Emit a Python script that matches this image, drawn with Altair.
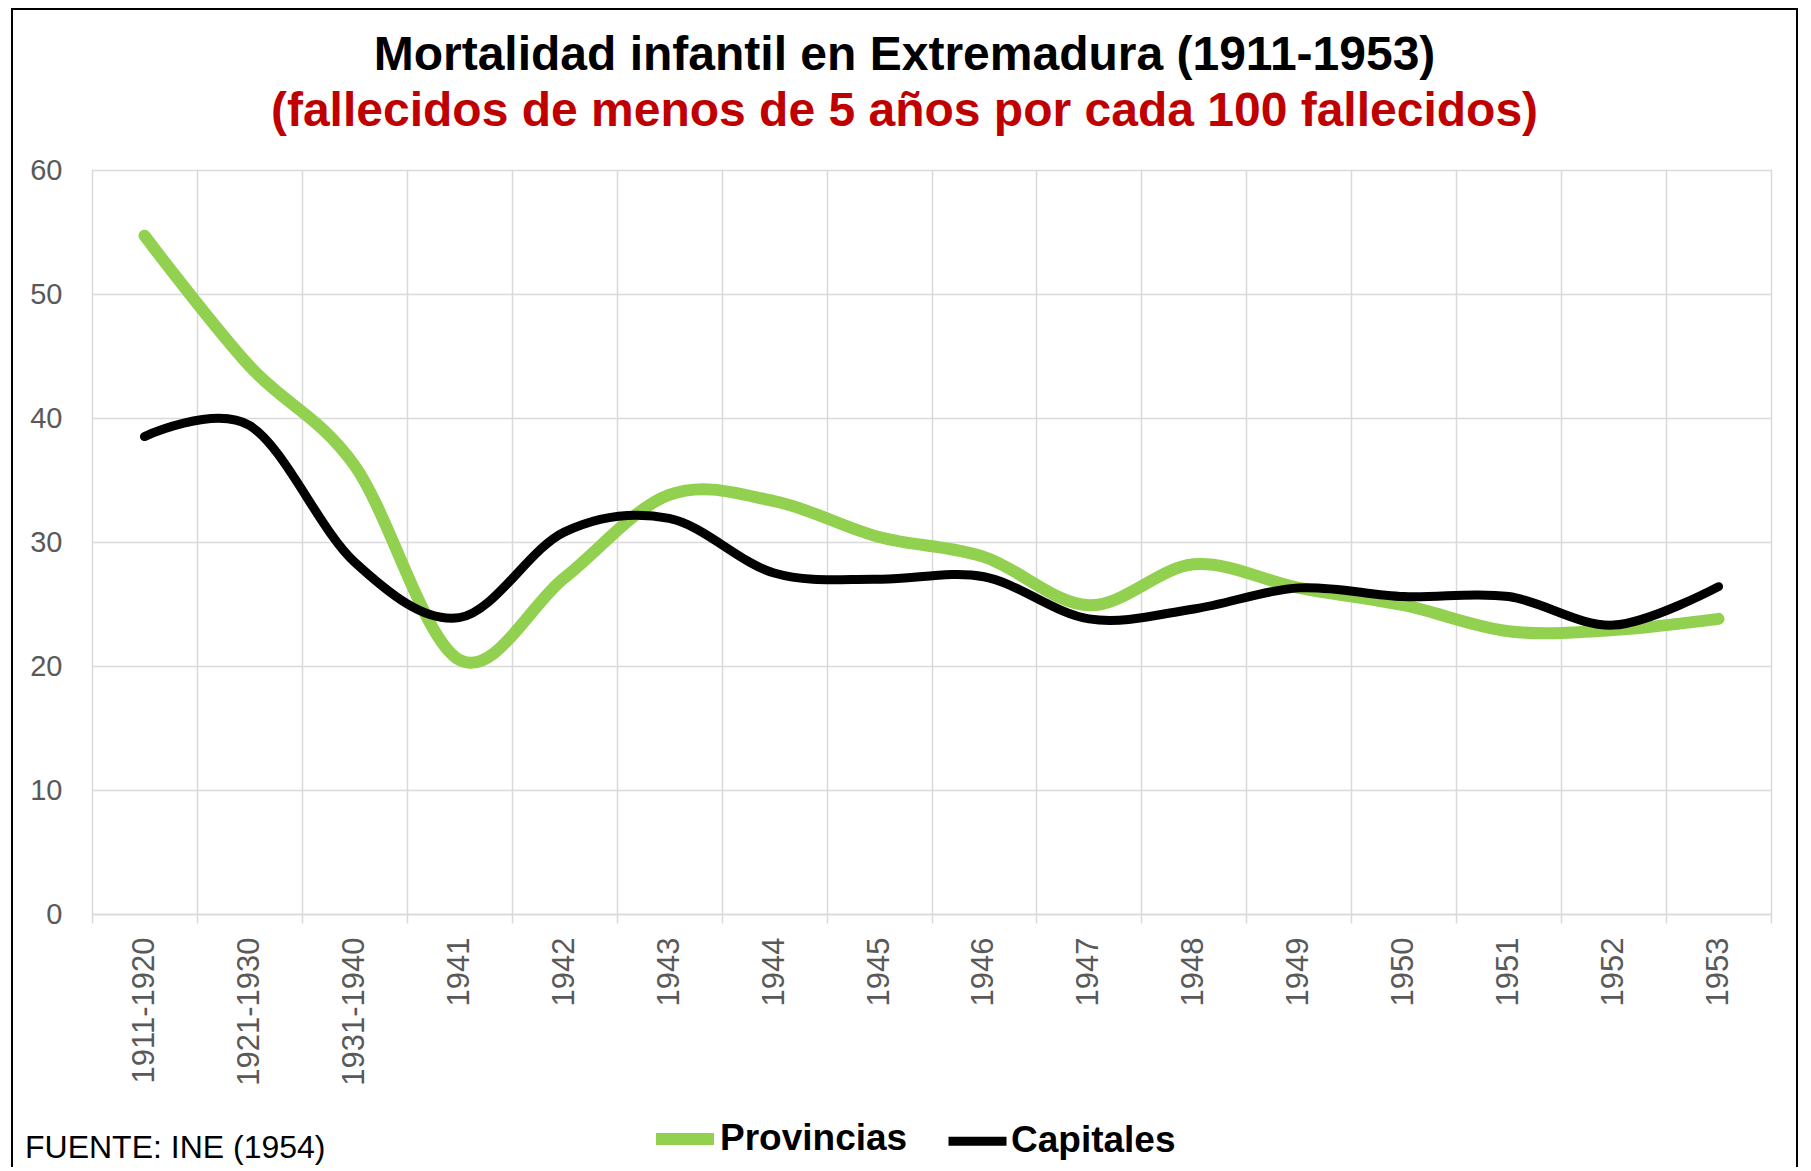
import altair as alt
import pandas as pd

# ---- data ----
categories = ["1911-1920", "1921-1930", "1931-1940", "1941", "1942", "1943", "1944", "1945",
              "1946", "1947", "1948", "1949", "1950", "1951", "1952", "1953"]
provincias = [54.7, 44.2, 36.2, 20.5, 27.1, 33.8, 33.3, 30.4, 28.8, 24.9, 28.2, 26.3, 24.9, 22.8, 22.9, 23.8]
capitales = [38.5, 39.4, 28.4, 23.9, 30.8, 31.9, 27.5, 27.0, 27.2, 23.8, 24.6, 26.3, 25.6, 25.6, 23.3, 26.4]
series_names = ["Provincias", "Capitales"]
series_colors = ["#92D050", "#000000"]
series_widths = [12, 9]
y_ticks = [0, 10, 20, 30, 40, 50, 60]
source_text = "FUENTE: INE (1954)"

rows = []
for name, vals in zip(series_names, [provincias, capitales]):
    for c, v in zip(categories, vals):
        rows.append({"periodo": c, "serie": name, "valor": v})
df = pd.DataFrame(rows)

FONT = "Liberation Sans"
GRID = "#D9D9D9"
LABEL = "#595959"

x_enc = alt.X(
    "periodo:N", sort=categories, bandPosition=0.5,
    scale=alt.Scale(type="band", paddingInner=0, paddingOuter=0),
    axis=alt.Axis(title=None, tickBand="extent", grid=True, gridColor=GRID, gridWidth=1.5,
                  labelAngle=270, labelAlign="right", labelBaseline="middle",
                  labelFontSize=31, labelColor=LABEL, labelFont=FONT, labelPadding=14,
                  tickColor=GRID, tickSize=9, tickWidth=1.5,
                  domainColor=GRID, domainWidth=1.5),
)
y_enc = alt.Y(
    "valor:Q", scale=alt.Scale(domain=[0, 60], nice=False),
    axis=alt.Axis(title=None, values=y_ticks, grid=True, gridColor=GRID, gridWidth=1.5,
                  domain=False, ticks=False, labelPadding=30,
                  labelFontSize=29, labelColor=LABEL, labelFont=FONT),
)
color_enc = alt.Color(
    "serie:N", scale=alt.Scale(domain=series_names, range=series_colors),
    legend=alt.Legend(orient="none", legendX=558, legendY=934, direction="horizontal",
                      title=None, symbolType="stroke", symbolSize=3364, symbolStrokeWidth=11,
                      labelFontSize=37, labelFontWeight="bold", labelColor="black",
                      labelFont=FONT, labelOffset=0, columnPadding=22, labelLimit=0),
)
sw_enc = alt.StrokeWidth("serie:N", scale=alt.Scale(domain=series_names, range=series_widths),
                         legend=None)

lines = []
for name in series_names:
    lines.append(
        alt.Chart(df).transform_filter(alt.datum.serie == name)
        .mark_line(interpolate="cardinal", strokeCap="round", strokeJoin="round")
        .encode(x=x_enc, y=y_enc, color=color_enc, strokeWidth=sw_enc)
    )

source = alt.Chart(alt.Data(values=[{}])).mark_text(
    align="left", baseline="middle", fontSize=32, font=FONT, color="black", text=source_text
).encode(x=alt.value(-67), y=alt.value(978))

frame = alt.Chart(alt.Data(values=[{}])).mark_rect(
    fill="transparent", stroke="black", strokeWidth=2
).encode(x=alt.value(-80), x2=alt.value(1705), y=alt.value(-161), y2=alt.value(1010))

chart = alt.layer(*lines, source, frame).properties(
    width=1679, height=744,
    autosize=alt.AutoSizeParams(type="none"),
    padding={"left": 84, "top": 162, "right": 32, "bottom": 253},
    title=alt.TitleParams(
        text="Mortalidad infantil en Extremadura (1911-1953)",
        subtitle="(fallecidos de menos de 5 años por cada 100 fallecidos)",
        fontSize=48, subtitleFontSize=48, fontWeight="bold", subtitleFontWeight="bold",
        color="black", subtitleColor="#C00000", font=FONT, subtitleFont=FONT,
        anchor="middle", frame="bounds", offset=-128, subtitlePadding=8,
    ),
).configure_view(stroke="transparent").configure(background="white")

chart.save("out.html", embed_options={"renderer": "svg", "actions": False})
